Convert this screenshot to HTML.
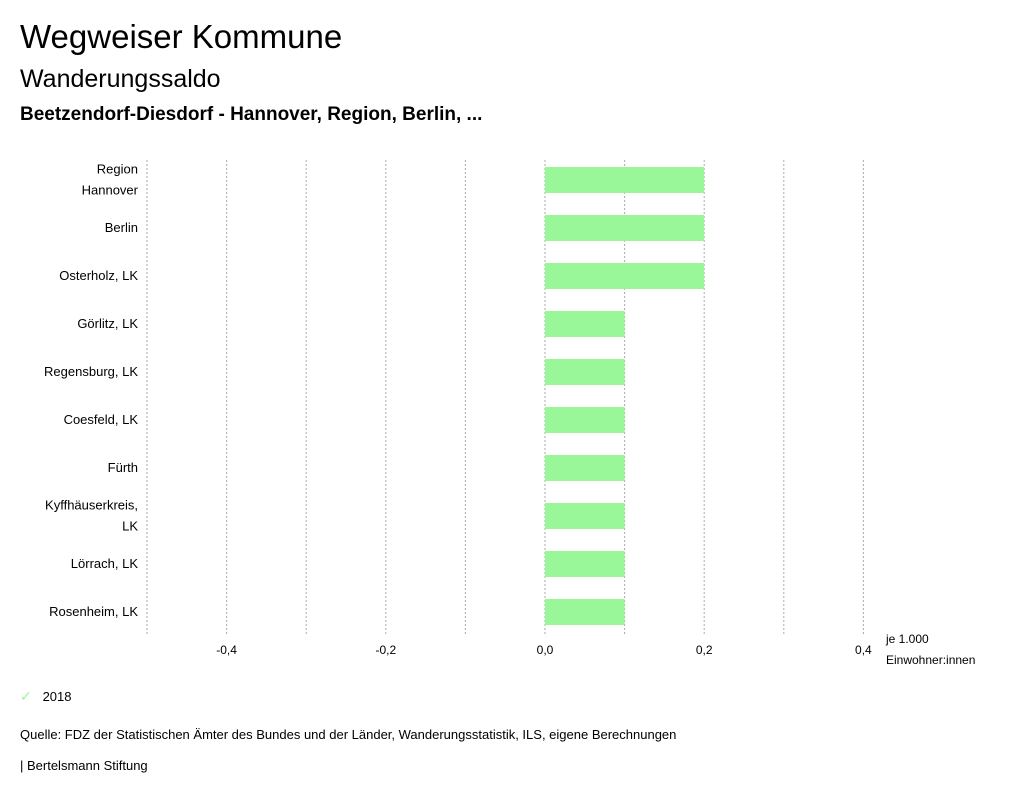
<!DOCTYPE html>
<html><head><meta charset="utf-8"><style>
body{margin:0;width:1024px;height:799px;background:#fff;font-family:"Liberation Sans",sans-serif;overflow:hidden;position:relative}
.t{position:absolute;white-space:nowrap;color:#000}
</style></head><body>
<div class="t" style="left:20px;top:18px;font-size:33px">Wegweiser Kommune</div>
<div class="t" style="left:20px;top:65px;font-size:25px">Wanderungssaldo</div>
<div class="t" style="left:20px;top:104px;font-size:19px;font-weight:bold">Beetzendorf-Diesdorf - Hannover, Region, Berlin, ...</div>
<svg id="c" width="1024" height="799" style="position:absolute;left:0;top:0"></svg>
<div class="t" style="left:20px;top:688px;font-size:13px"><span style="color:#9af799;font-size:14px">✓</span>&nbsp;&nbsp;&nbsp;2018</div>
<div class="t" style="left:20px;top:727px;font-size:13px">Quelle: FDZ der Statistischen Ämter des Bundes und der Länder, Wanderungsstatistik, ILS, eigene Berechnungen</div>
<div class="t" style="left:20px;top:758px;font-size:13px">| Bertelsmann Stiftung</div>
<script>
const categories=[["Region","Hannover"],["Berlin"],["Osterholz, LK"],["Görlitz, LK"],["Regensburg, LK"],["Coesfeld, LK"],["Fürth"],["Kyffhäuserkreis,","LK"],["Lörrach, LK"],["Rosenheim, LK"]];
const values2018=[0.2,0.2,0.2,0.1,0.1,0.1,0.1,0.1,0.1,0.1];
const gridValues=[-0.5,-0.4,-0.3,-0.2,-0.1,0,0.1,0.2,0.3,0.4];
const tickValues=[-0.4,-0.2,0,0.2,0.4];
const tickLabels=["-0,4","-0,2","0,0","0,2","0,4"];
const svg=document.getElementById('c');const NS='http://www.w3.org/2000/svg';
const x=v=>545+v*796;const top0=160,bot=635,band=48;
const y=i=>top0+i*band;
function mk(t,a){const e=document.createElementNS(NS,t);for(const k in a)e.setAttribute(k,a[k]);svg.appendChild(e);return e;}
gridValues.forEach(v=>{const l=mk('line',{x1:x(v),x2:x(v),y1:top0,y2:bot,stroke:'#aaa','stroke-dasharray':'2,2','stroke-width':1});

});
values2018.forEach((v,i)=>{const r=mk('rect',{x:Math.min(x(0),x(v)),y:y(i)+7,width:Math.abs(x(v)-x(0)),height:26,fill:'#9af799'});

});
categories.forEach((c,i)=>{const cy=y(i)+band/2-4;
c.forEach((s,j)=>{const t=mk('text',{x:138,y:cy+(j-(c.length-1)/2)*21+4,'text-anchor':'end','font-size':13,'font-family':'Liberation Sans, sans-serif'});t.textContent=s;

});});
tickValues.forEach((v,i)=>{const t=mk('text',{x:x(v),y:654,'text-anchor':'middle','font-size':12,'font-family':'Liberation Sans, sans-serif'});t.textContent=tickLabels[i];

});
[["je 1.000",643],["Einwohner:innen",664]].forEach(a=>{const t=mk('text',{x:886,y:a[1],'font-size':12,'font-family':'Liberation Sans, sans-serif'});t.textContent=a[0];

});
</script>
</body></html>
